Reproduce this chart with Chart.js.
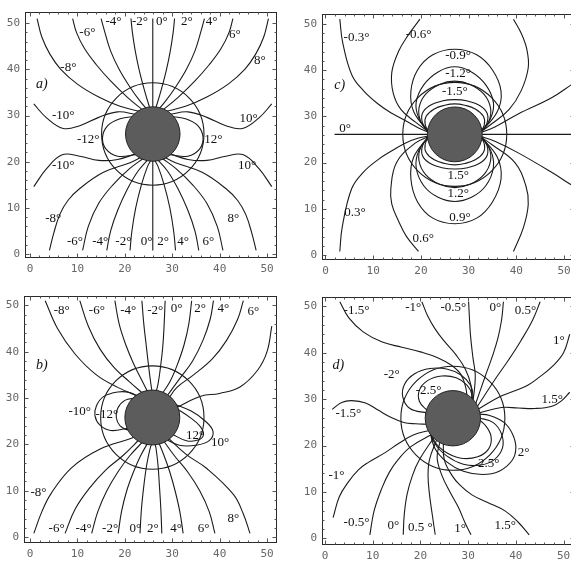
<!DOCTYPE html>
<html>
<head>
<meta charset="utf-8">
<script src="https://cdn.jsdelivr.net/npm/chart.js@4.4.1/dist/chart.umd.min.js"></script>
<style>
  html, body { margin: 0; padding: 0; background: #fff; overflow: hidden; width: 571px; height: 561px; }
  canvas { position: absolute; }
</style>
</head>
<body>
<canvas id="chartA" width="283" height="280" style="left:0px;top:0px"></canvas>
<canvas id="chartB" width="283" height="281" style="left:0px;top:284px"></canvas>
<canvas id="chartC" width="284" height="280" style="left:297px;top:2px"></canvas>
<canvas id="chartD" width="284" height="282" style="left:297px;top:285px"></canvas>
<script>
const tickVals = [0, 10, 20, 30, 40, 50];
const minorTickVals = [2, 4, 6, 8, 12, 14, 16, 18, 22, 24, 26, 28, 32, 34, 36, 38, 42, 44, 46, 48];
const centres = [[25.9, 26], [25.8, 25.8], [27.1, 26.1], [26.8, 25.9]];
const diskR = [5.75, 5.8, 5.75, 5.8];
const ringR = [10.8, 10.9, 10.9, 10.9];

// a) lines from the top edge, from the bottom edge, and the side ones
const aTop = [
  [[1.5,51],[2.5,47],[4.2,43.3],[6.5,40],[10,36.8],[14.5,34],[19,32],[23.5,30.8]],
  [[9,51],[9.8,48],[11.5,44.5],[14,41],[17,37.5],[20.5,34],[24,31]],
  [[15,51],[15.8,48],[17,44],[18.8,40],[21,36.3],[23.3,33],[25,31]],
  [[21.3,51],[21.6,48],[22.2,44],[23,40],[24,36],[25,32.5],[25.5,31]],
  [[25.9,51],[25.9,0.8]],
  [[30.5,51],[30.2,48],[29.6,44],[28.8,40],[27.8,36],[26.8,32.5],[26.3,31]],
  [[36.8,51],[36,48],[34.8,44],[33,40],[30.8,36.3],[28.5,33],[26.8,31]],
  [[42.8,51],[42,48],[40.3,44.5],[37.8,41],[34.8,37.5],[31.3,34],[27.8,31]],
  [[50.3,51],[49.3,47],[47.6,43.3],[45.3,40],[41.8,36.8],[37.3,34],[32.8,32],[28.3,30.8]]
];
const aBottom = [
  [[4.1,0.8],[5,4.5],[6.3,8.6],[8,11.6],[10.5,14.2],[15.5,17.7],[21.1,19.8],[23.5,21]],
  [[11.1,0.8],[12.3,6],[14.5,11],[17.5,15],[21,18.5],[24,20.8]],
  [[16.2,0.8],[17,5],[18.5,9.5],[20.5,14],[22.8,18],[25,20.6]],
  [[21.1,0.8],[21.5,5],[22.3,10],[23.5,15],[24.8,19],[25.6,20.5]],
  [[30.7,0.8],[30.3,5],[29.5,10],[28.3,15],[27,19],[26.2,20.5]],
  [[35.6,0.8],[34.8,5],[33.3,9.5],[31.3,14],[29,18],[26.8,20.6]],
  [[40.7,0.8],[39.5,6],[37.3,11],[34.3,15],[30.8,18.5],[27.8,20.8]],
  [[47.7,0.8],[46.8,4.5],[45.5,8.6],[43.8,11.6],[41.3,14.2],[36.3,17.7],[30.7,19.8],[28.3,21]]
];
const aSides = [
  [[0.8,32.5],[3.5,29.5],[7,27.2],[10.5,27.8],[14.5,29.6],[18.5,30.8],[22.5,30.2]],
  [[0.8,14.6],[3.5,18.5],[6.8,21.5],[10.5,21.2],[14.5,20.3],[18.5,20.5],[22.5,21.8]],
  [[51,32.5],[48.3,29.5],[44.8,27.2],[41.3,27.8],[37.3,29.6],[33.3,30.8],[29.3,30.2]],
  [[51,14.6],[48.3,18.5],[45,21.5],[41.3,21.2],[37.3,20.3],[33.3,20.5],[29.3,21.8]],
  [[22.3,29.8],[19,29.3],[16.4,27.8],[15.3,25.3],[16,22.8],[18.5,21.2],[22.3,21.5]],
  [[29.5,29.8],[32.8,29.3],[35.4,27.8],[36.5,25.3],[35.8,22.8],[33.3,21.2],[29.5,21.5]]
];
const aLabels = [
  ['-8°',8.1,40.3],['-6°',12.1,47.9],['-4°',17.6,50.4],['-2°',23.2,50.4],['0°',27.8,50.4],
  ['2°',33.1,50.4],['4°',38.3,50.4],['6°',43.2,47.6],['8°',48.5,42],
  ['-10°',7,30],['10°',46.1,29.3],['-12°',12.3,24.7],['12°',38.7,24.7],['-10°',7,19.2],['10°',45.8,19.2],
  ['-8°',4.9,7.6],['8°',42.9,7.8],['-6°',9.5,2.8],['-4°',14.8,2.8],['-2°',19.7,2.8],['0°',24.6,2.8],
  ['2°',28.1,2.8],['4°',32.3,2.8],['6°',37.6,2.8]
];

// b)
const bTop = [
  [[3.2,51],[5.8,45],[9.5,39.5],[14,35],[18.5,32.3],[23,30.3]],
  [[10.5,51],[12.3,45.5],[14.8,40.5],[17.8,36.5],[21,33.5],[24,30.8]],
  [[17.9,51],[18.8,46],[20.2,41.5],[21.8,37.5],[23.5,34],[25,31]],
  [[23.6,51],[24,46],[24.5,41.5],[25,37],[25.5,33],[25.8,31]],
  [[28.5,51],[28.3,46],[28,41],[27.5,36.5],[27,33],[26.5,31]],
  [[34.1,51],[33.5,46],[32.5,41.5],[31,37],[29.5,33.5],[27.8,30.8]],
  [[38.7,51],[38,47],[36.5,42.5],[34.3,38],[31.8,34.5],[28.8,30.3]],
  [[45,51],[43.8,47],[41.5,42.5],[38.5,38.5],[34.5,35],[31,32.3],[29.3,30]],
  [[51,45.5],[50,40],[48,36],[44.3,32.4],[40,31],[36,30.4],[31,28]]
];
const bBottom = [
  [[7.4,0.8],[9.5,6],[12.5,10.5],[16,14.5],[19.5,17.5],[23,21]],
  [[13,0.8],[14.3,5.5],[16.2,10],[18.5,14],[21,17.5],[24,20.8]],
  [[18.6,0.8],[19.3,5.5],[20.4,10],[21.8,14],[23.3,17.5],[25,20.6]],
  [[23.2,0.8],[23.5,6],[24,11],[24.6,15.5],[25.3,19],[25.8,20.5]],
  [[27.8,0.8],[27.6,6],[27.3,11],[27,15.5],[26.6,19],[26.3,20.5]],
  [[32.3,0.8],[31.6,5.5],[30.6,10],[29.5,14],[28.3,17.5],[27,20.8]],
  [[39,0.8],[37.8,5.5],[35.8,10],[33.3,14],[30.5,17.5],[28,21]],
  [[46.4,0.8],[45,5],[42.9,9.2],[37.3,14.8],[33,17.8],[29,21.5]]
];
const bSides = [
  [[23,30.2],[21,31.2],[18.5,31.3],[15.5,30.3],[14,28.3],[13.7,26.2],[14.7,24.2],[17,23],[20.5,23.5],[22,24]],
  [[22.3,30],[20,29.5],[18.5,27.8],[18.2,25.8],[19,24],[21,23],[22.5,23.2]],
  [[30.2,28.8],[34,27.2],[37,25],[38.6,22.8],[37.8,20.8],[35,19.8],[31.5,19.8],[28.5,21.2]],
  [[30.8,27.8],[33.5,26],[35.8,24],[36.6,22.2],[35.6,21],[33,20.8],[29.8,22.3]],
  [[0.8,0.8],[2.5,5.5],[4.5,9.5],[8.8,15],[14.8,19],[21.1,21.2],[23,22]]
];
const bLabels = [
  ['-8°',6.7,48.9],['-6°',14.1,48.9],['-4°',20.7,48.9],['-2°',26.4,48.9],['0°',30.9,49.3],
  ['2°',35.9,49.3],['4°',40.8,49.3],['6°',47.1,48.6],
  ['-10°',10.5,27.1],['-12°',16.2,26.4],['12°',34.8,21.9],['10°',40.1,20.5],['-8°',1.8,9.6],['8°',42.9,3.9],
  ['-6°',5.6,1.8],['-4°',11.3,1.8],['-2°',16.9,1.8],['0°',22.2,1.8],['2°',25.9,1.8],['4°',30.8,1.8],['6°',36.6,1.8]
];

// c)
const cZero = [[1.9,26.1],[51.5,26.1]];
const cUpper = [
  [[3,51],[3.6,46],[5.5,39],[8,35.5],[11.1,32.6],[14,30.6],[16.7,29.1],[19.5,27.5],[22,26.4]],
  [[32.2,26.4],[35.5,27.7],[40.4,30.5],[47.4,34],[51.5,36.8]],
  [[19.8,51],[17.3,47.5],[15.3,44],[13.9,39.5],[14.2,35],[15.8,31.5],[18.8,28.8],[22,26.4]],
  [[32.2,26.4],[35,28.5],[38.5,31.5],[41,35.5],[42.5,40.5],[42.2,44.5],[41,48],[39.4,51]],
  [[21.8,26.4],[18.5,31],[17.9,35.4],[19.3,40],[22.5,43.3],[27.1,44.5],[31.7,43.3],[35,40],[36.8,35.4],[36,31],[32.4,26.4]],
  [[21.8,26.4],[19.6,29.5],[19,33],[20.6,36.8],[23.6,39.6],[27.1,40.7],[30.6,39.6],[33.6,36.8],[35.2,33],[34.6,29.5],[32.4,26.4]],
  [[21.8,26.4],[20,28.8],[19.6,31.8],[21,34.8],[23.9,36.9],[27.1,37.6],[30.3,36.9],[33.2,34.8],[34.6,31.8],[34.2,28.8],[32.4,26.4]],
  [[21.8,26.4],[20.4,28.4],[20.3,30.6],[21.8,32.3],[24.4,33.3],[27.1,33.6],[29.8,33.3],[32.4,32.3],[33.9,30.6],[33.8,28.4],[32.4,26.4]],
  [[21.8,26.4],[20.9,28.2],[21.1,30],[22.8,31.6],[25,32.4],[27.1,32.7],[29.2,32.4],[31.4,31.6],[33.1,30],[33.3,28.2],[32.4,26.4]]
];
const cLower = [
  [[3,0.8],[3.5,6],[5.5,14.4],[8,18],[11.1,20.7],[14,22.6],[16.7,24.2],[19.5,25.3],[22,25.8]],
  [[32.2,25.8],[35.5,24.6],[40.4,22.1],[47.4,17.9],[51.5,15.2]],
  [[19.5,0.8],[17,4],[15.3,7.4],[13.9,11],[13.7,14.4],[14.9,20],[18.8,24.2],[22,25.8]],
  [[32.2,25.8],[35,23.8],[39.7,20],[42,15],[42.5,11],[41.5,6],[39.4,0.8]],
  [[21.8,25.8],[18.5,21.2],[17.9,16.5],[19.3,11.5],[22.5,8],[27.1,6.8],[31.7,8],[35,11.5],[36.8,16.5],[36,21.2],[32.4,25.8]],
  [[21.8,25.8],[19.6,22.7],[19,19],[20.6,15],[23.6,12.5],[27.1,11.6],[30.6,12.5],[33.6,15],[35.2,19],[34.6,22.7],[32.4,25.8]],
  [[21.8,25.8],[20,23.4],[19.6,20.4],[21,17.4],[23.9,15.3],[27.1,14.6],[30.3,15.3],[33.2,17.4],[34.6,20.4],[34.2,23.4],[32.4,25.8]],
  [[21.8,25.8],[20.4,23.8],[20.3,21.6],[21.8,19.9],[24.4,18.9],[27.1,18.6],[29.8,18.9],[32.4,19.9],[33.9,21.6],[33.8,23.8],[32.4,25.8]],
  [[21.8,25.8],[20.9,24],[21.1,22.2],[22.8,20.6],[25,19.8],[27.1,19.5],[29.2,19.8],[31.4,20.6],[33.1,22.2],[33.3,24],[32.4,25.8]]
];
const cLabels = [
  ['-0.3°',6.5,47],['-0.6°',19.5,47.7],['-0.9°',27.8,43.1],['-1.2°',27.8,39.3],['-1.5°',27.1,35.4],
  ['0°',4.1,27.3],['1.5°',27.8,17.2],['1.2°',27.8,13.3],['0.9°',28.2,8.1],['0.3°',6.2,9.1],['0.6°',20.5,3.5]
];

// d)
const dTop = [
  [[3.1,51],[5,47.5],[8,44.5],[12,42.3],[16.1,41.2],[20,40.2],[23.5,39],[26.5,37.3],[28.5,35.3],[29.5,32.5],[29.8,30.2]],
  [[20.3,51],[21.5,48],[23.1,45.1],[25,42.5],[27.5,39.5],[29.4,36.5],[30.6,33],[30.8,29.5]],
  [[30.1,51],[30.3,47],[30.5,43.7],[31,39],[31.5,35],[31,29.2]],
  [[37.4,51],[37,47],[36.2,43],[35,39],[33.6,35],[31.5,28.8]],
  [[45.1,51],[43.5,47],[41,42.5],[38.5,38.5],[35.8,34.5],[31.8,28.2]],
  [[51.3,44],[50,40],[47.6,37],[45,34.8],[42.5,33],[39.5,31.7],[36.5,30.5],[32,27.8]],
  [[51.3,31.5],[49.5,29.6],[47.6,28.5],[44,28],[40.5,28.1],[37,28.2],[32.2,27]]
];
const dSides = [
  [[1.5,27.8],[3.5,29.3],[5.6,29.7],[8.5,29.2],[11.2,27.6],[14,26],[16.5,25],[19,24.7],[21.5,24.6]],
  [[1.7,4.5],[3,9],[4.9,12.2],[7,14.8],[9.1,16.4],[12.6,18.5],[15.5,20.5],[18.5,22.3],[22,23.3]],
  [[9.4,0.8],[10.3,6],[11.9,10.8],[13.5,14.3],[15.4,17.1],[18,19.8],[22.5,22.5]],
  [[16.4,0.8],[16.6,5],[17.2,9.5],[18.3,13.5],[19.8,17],[23,22]],
  [[23.1,0.8],[22.5,5],[21.9,9.5],[21.6,13.5],[21.9,17],[23.5,21.5]],
  [[30.6,0.8],[29.3,3.5],[28,6.6],[26.2,10],[24.5,13.6],[23.5,17.5],[24.2,21.2]],
  [[42.8,0.8],[40.5,3.5],[37.8,5.9],[34,7.8],[30.8,9.4],[28.3,11.5],[26.6,13.6],[25,17],[24.8,21]],
  [[21.8,24],[23,19.5],[25.5,16.5],[29,14.5],[33,13.8],[36.5,14.5],[39.2,16.8],[40,19.5],[39.3,22.5],[37.5,25],[34.5,26.5],[32,26.8]],
  [[21.5,24.5],[23,20.5],[25.5,17.8],[29,16],[32.5,15.8],[35.5,17],[37.2,19.5],[37,22.5],[35.2,25],[32.2,26]],
  [[22,24.5],[22.8,21.2],[25,18.8],[28.5,17.3],[32,17.6],[34.3,19.3],[34.8,22],[33.5,24.5],[31.8,25.9]],
  [[21.5,27],[17.8,28],[16.3,30.5],[16.7,33.3],[18.8,35.5],[22,36.6],[25.5,36.5],[28.5,35.2],[30.5,33],[31,31],[30.8,29.5]],
  [[21.5,27.5],[19.8,29.5],[19.8,32],[21.5,34],[24.5,35],[27.5,34.6],[29.8,33],[30.8,31],[30.5,29.8]]
];
const dLabels = [
  ['-1.5°',6.6,49],['-1°',18.5,49.7],['-0.5°',26.9,49.7],['0°',35.7,49.7],['0.5°',42,49],['1°',49,42.7],
  ['-2°',14,35.3],['-2.5°',21.7,31.8],['1.5°',47.6,29.9],['-1.5°',4.9,26.9],['2°',41.6,18.5],['2.5°',34.3,16.1],
  ['-1°',2.4,13.6],['-0.5°',6.6,3.5],['0°',14.3,2.8],['0.5 °',20,2.4],['1°',28.3,2.1],['1.5°',37.8,2.8]
];

const panelSetup = [
  {id: 'chartA', name: 'a)', at: [2.5, 36.7], lines: [...aTop, ...aBottom, ...aSides], labels: aLabels, xr: [-1.05, 52.1], yr: [-0.84, 52.5], yw: 25},
  {id: 'chartB', name: 'b)', at: [2.5, 37], lines: [...bTop, ...bBottom, ...bSides], labels: bLabels, xr: [-1.27, 52.1], yr: [-1.27, 52.1], yw: 24},
  {id: 'chartC', name: 'c)', at: [3, 36.8], lines: [cZero, ...cUpper, ...cLower], labels: cLabels, xr: [-0.73, 52.3], yr: [-1.05, 52.2], yw: 25},
  {id: 'chartD', name: 'd)', at: [2.8, 37.4], lines: [...dTop, ...dSides], labels: dLabels, xr: [-0.63, 52.4], yr: [-1.4, 52.1], yw: 25}
];

// frame with inward ticks, then the contour labels
const framePlugin = {
  id: 'frame',
  afterDatasetsDraw(chart, args, opts) {
    const {ctx, chartArea: a, scales} = chart;
    const l = Math.round(a.left) + 0.5, t = Math.round(a.top) + 0.5;
    const r = Math.round(a.right) - 0.5, b = Math.round(a.bottom) - 0.5;
    ctx.save();
    ctx.strokeStyle = '#2a2a2a';
    ctx.lineWidth = 1;
    ctx.strokeRect(l, t, r - l, b - t);
    ctx.beginPath();
    const mark = (v, len) => {
      const px = Math.round(scales.x.getPixelForValue(v)) + 0.5;
      const py = Math.round(scales.y.getPixelForValue(v)) + 0.5;
      ctx.moveTo(px, b); ctx.lineTo(px, b - len);
      ctx.moveTo(px, t); ctx.lineTo(px, t + len);
      ctx.moveTo(l, py); ctx.lineTo(l + len, py);
      ctx.moveTo(r, py); ctx.lineTo(r - len, py);
    };
    tickVals.forEach(v => mark(v, 4));
    minorTickVals.forEach(v => mark(v, 2));
    ctx.strokeStyle = '#555';
    ctx.stroke();
    ctx.fillStyle = '#111';
    ctx.textAlign = 'center';
    ctx.textBaseline = 'middle';
    ctx.font = '13px "Liberation Serif"';
    opts.labels.forEach(([txt, x, y]) => {
      ctx.fillText(txt, scales.x.getPixelForValue(x), scales.y.getPixelForValue(y));
    });
    ctx.font = 'italic 14px "Liberation Serif"';
    ctx.fillText(opts.name, scales.x.getPixelForValue(opts.at[0]), scales.y.getPixelForValue(opts.at[1]));
    ctx.restore();
  }
};

function radiusPx(r) {
  return (c) => {
    const s = c.chart.scales.x;
    return Math.abs(s.getPixelForValue(r) - s.getPixelForValue(0));
  };
}

function axisOpts(range, isX, yw) {
  return {
    type: 'linear',
    min: range[0],
    max: range[1],
    afterBuildTicks: s => { s.ticks = tickVals.map(v => ({value: v})); },
    afterFit: s => { if (isX) s.height = 22; else s.width = yw; },
    grid: {display: false, drawTicks: false, tickLength: 0},
    border: {display: false},
    ticks: {padding: 5, color: '#666', maxRotation: 0, autoSkip: false,
      font: {family: 'DejaVu Sans Mono', size: 11}}
  };
}

panelSetup.forEach((p, i) => {
  const [cx, cy] = centres[i];
  const lineSets = p.lines.map(pts => ({
    data: pts.map(([x, y]) => ({x, y})),
    showLine: true,
    tension: 0.4,
    borderColor: '#1b1b1b',
    borderWidth: 1.1,
    pointRadius: 0,
    order: 2
  }));
  const ring = {
    data: [{x: cx, y: cy}],
    pointRadius: radiusPx(ringR[i]),
    pointBackgroundColor: 'rgba(0,0,0,0)',
    pointBorderColor: '#1b1b1b',
    pointBorderWidth: 1.1,
    order: 1
  };
  const disk = {
    data: [{x: cx, y: cy}],
    pointRadius: radiusPx(diskR[i]),
    pointBackgroundColor: '#5c5c5c',
    pointBorderColor: '#222',
    pointBorderWidth: 1,
    order: 0
  };

  new Chart(document.getElementById(p.id), {
    type: 'scatter',
    data: {datasets: [disk, ring, ...lineSets]},
    options: {
      responsive: false,
      animation: false,
      events: [],
      layout: {padding: {top: 5, right: 6, left: 0, bottom: 0}, autoPadding: false},
      plugins: {
        legend: {display: false},
        tooltip: {enabled: false},
        frame: {labels: p.labels, name: p.name, at: p.at}
      },
      scales: {
        x: axisOpts(p.xr, true, p.yw),
        y: axisOpts(p.yr, false, p.yw)
      }
    },
    plugins: [framePlugin]
  });
});
</script>
</body>
</html>
